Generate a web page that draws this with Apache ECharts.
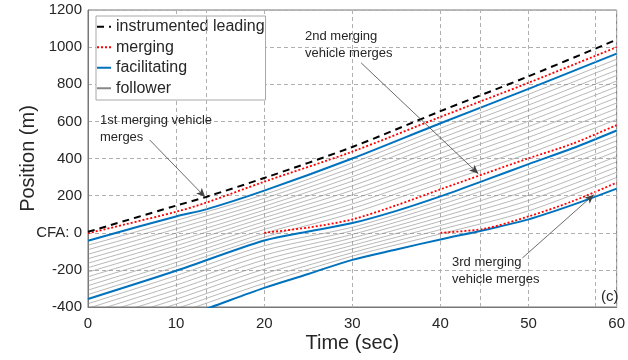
<!DOCTYPE html>
<html>
<head>
<meta charset="utf-8">
<script src="https://cdn.jsdelivr.net/npm/echarts@6/dist/echarts.min.js"></script>
<style>
html,body{margin:0;padding:0;background:#fff;}
#chart{width:628px;height:360px;}
</style>
</head>
<body>
<div id="chart"></div>
<script>
var myChart = echarts.init(document.getElementById('chart'));

// trajectories (time in sec, position in m)
var leadT = [0, 10, 13.4, 20, 30, 40, 50, 60];
var leadPos = [5, 146, 193, 295, 462, 655, 843, 1040];

var merge1T = [0, 10, 13.4, 20, 30, 40, 50, 60];
var merge1Pos = [-3, 113, 162, 275, 437, 624, 808, 1000];
var merge2T = [20, 25, 30, 35, 40, 45, 50, 55, 60];
var merge2Pos = [0, 28, 72, 148, 234, 318, 401, 480, 580];
var merge3T = [40, 45, 50, 55, 60];
var merge3Pos = [0, 22, 88, 170, 270];

var fac1T = [0, 10, 13.4, 20, 30, 40, 50, 60];
var fac1Pos = [-43, 88, 126, 227, 400, 590, 775, 965];
var fac2T = [0, 10, 20, 25, 30, 35, 40, 45, 50, 55, 60];
var fac2Pos = [-357, -205, -42, 7, 52, 118, 196, 282, 370, 455, 551];
var fac3T = [10, 14, 20, 25, 30, 35, 40, 45, 50, 55, 60];
var fac3Pos = [-468, -400, -297, -222, -146, -90, -36, 15, 72, 150, 238];

// followers, one row per vehicle, sampled at followT
var followT = [0, 10, 20, 30, 40, 50, 60];
var followA = [//between 1st and 2nd facilitating
  [-67, 66, 206, 376, 563, 746, 935],
  [-91, 43, 185, 351, 536, 717, 906],
  [-116, 21, 164, 327, 509, 688, 876],
  [-140, -2, 143, 302, 482, 659, 847],
  [-164, -25, 122, 278, 455, 630, 817],
  [-188, -47, 102, 253, 428, 601, 787],
  [-212, -70, 81, 229, 401, 572, 758],
  [-237, -92, 60, 204, 374, 543, 728],
  [-261, -115, 39, 180, 347, 514, 699],
  [-285, -137, 18, 155, 320, 485, 669],
  [-309, -160, -3, 131, 293, 456, 639],
  [-333, -182, -24, 106, 266, 427, 610]
];
var followB = [//between 2nd and 3rd facilitating
  [-382, -231, -70, 30, 174, 342, 523],
  [-407, -256, -95, 11, 151, 314, 495],
  [-432, -282, -121, -9, 129, 286, 467],
  [-457, -307, -146, -28, 106, 258, 439],
  [-482, -333, -171, -48, 84, 230, 411],
  [-507, -358, -196, -68, 62, 202, 382],
  [-532, -384, -221, -87, 39, 174, 354],
  [-557, -409, -247, -107, 17, 146, 326],
  [-582, -435, -272, -126, -6, 118, 298]
];

var mergeTimes = [13.4, 44.5, 57.6];//extra vertical lines
var yTicks = [-400, -200, 0, 200, 400, 600, 800, 1000, 1200];

function pairs(t, v) {
  var out = [];
  for (var i = 0; i < t.length; i++) out.push([t[i], v[i]]);
  return out;
}

var txt = '#262626';
var gridCol = '#b0b0b0';
var font = 'Liberation Sans, Arial';
var series = [];

// extra dashed vertical lines at merge times
series.push({
  type: 'line', data: [], z: 1, silent: true,
  markLine: {
    symbol: ['none', 'none'], silent: true, animation: false,
    label: { show: false },
    lineStyle: { color: gridCol, type: [4, 3], width: 1 },
    data: mergeTimes.map(function (t) { return { xAxis: t }; })
  }
});

followA.concat(followB).forEach(function (row) {
  series.push({
    name: 'follower', type: 'line', data: pairs(followT, row),
    symbol: 'none', smooth: 0.3,
    lineStyle: { color: '#888', width: 0.6 }, itemStyle: { color: '#888' }
  });
});

[[fac1T, fac1Pos], [fac2T, fac2Pos], [fac3T, fac3Pos]].forEach(function (d) {
  series.push({
    name: 'facilitating', type: 'line', data: pairs(d[0], d[1]),
    symbol: 'none', smooth: 0.3,
    lineStyle: { color: '#0072bd', width: 2 }, itemStyle: { color: '#0072bd' }
  });
});

[[merge1T, merge1Pos], [merge2T, merge2Pos], [merge3T, merge3Pos]].forEach(function (d) {
  series.push({
    name: 'merging', type: 'line', data: pairs(d[0], d[1]),
    symbol: 'none', smooth: 0.3,
    lineStyle: { color: '#ff0000', width: 1.8, type: [2, 2] }, itemStyle: { color: '#ff0000' }
  });
});

series.push({
  name: 'instrumented leading', type: 'line', data: pairs(leadT, leadPos),
  symbol: 'none', smooth: 0.3,
  lineStyle: { color: '#000', width: 2, type: [7, 5] }, itemStyle: { color: '#000' }
});

// annotation arrows
series.push({
  type: 'line', data: [], z: 10, silent: true,
  markLine: {
    silent: true, animation: false,
    symbol: ['none', 'arrow'], symbolSize: [6, 9],
    label: { show: false },
    lineStyle: { color: '#444', width: 0.8, type: 'solid' },
    data: [
      [{ coord: [7.0, 500] }, { coord: [13.3, 192] }],
      [{ coord: [31.0, 915] }, { coord: [44.3, 318] }],
      [{ coord: [49.3, -136] }, { coord: [57.4, 205] }]
    ]
  }
});

var option = {
  animation: false,
  backgroundColor: '#fff',
  grid: { left: 88, right: 6, top: 10, bottom: 53, show: true, borderColor: '#777', borderWidth: 1 },
  legend: {
    data: ['instrumented leading', 'merging', 'facilitating', 'follower'],
    orient: 'vertical', left: 96, top: 16,
    itemWidth: 14, itemHeight: 14, itemGap: 1,
    padding: [1, 1, 2, 0],
    backgroundColor: '#fff', borderColor: '#a8a8a8', borderWidth: 1,
    itemStyle: { opacity: 0 },
    textStyle: { color: txt, fontSize: 16, lineHeight: 19.5, fontFamily: font },
    selectedMode: false
  },
  xAxis: {
    type: 'value', min: 0, max: 60, interval: 10,
    name: 'Time (sec)', nameLocation: 'middle', nameGap: 26, nameMoveOverlap: false,
    nameTextStyle: { color: txt, fontSize: 20, fontFamily: font },
    axisLine: { onZero: false, lineStyle: { color: '#777' } },
    axisTick: { show: false },
    axisLabel: { color: txt, fontSize: 15, margin: 9, fontFamily: font },
    splitLine: { show: true, lineStyle: { color: gridCol, type: [4, 3] } }
  },
  yAxis: {
    type: 'value', min: yTicks[0], max: yTicks[yTicks.length - 1], interval: 200,
    name: 'Position (m)', nameLocation: 'middle', nameGap: 50, nameMoveOverlap: false,
    nameTextStyle: { color: txt, fontSize: 20, fontFamily: font },
    axisLine: { show: true, onZero: false, lineStyle: { color: '#777' } },
    axisTick: { show: false },
    axisLabel: {
      color: txt, fontSize: 15, margin: 6, fontFamily: font,
      formatter: function (v) { return v === 0 ? 'CFA: 0' : String(v); }
    },
    splitLine: { show: true, lineStyle: { color: gridCol, type: [4, 3] } }
  },
  graphic: [
    { type: 'text', left: 100, top: 112, z: 20, style: { text: '1st merging vehicle\nmerges', fill: txt, font: '13px ' + font, lineHeight: 17 } },
    { type: 'text', left: 305, top: 28, z: 20, style: { text: '2nd merging\nvehicle merges', fill: txt, font: '13px ' + font, lineHeight: 17 } },
    { type: 'text', left: 452, top: 254, z: 20, style: { text: '3rd merging\nvehicle merges', fill: txt, font: '13px ' + font, lineHeight: 17 } },
    { type: 'text', left: 601, top: 289, z: 20, style: { text: '(c)', fill: txt, font: '15px ' + font } }
  ],
  series: series
};
myChart.setOption(option);
</script>
</body>
</html>
